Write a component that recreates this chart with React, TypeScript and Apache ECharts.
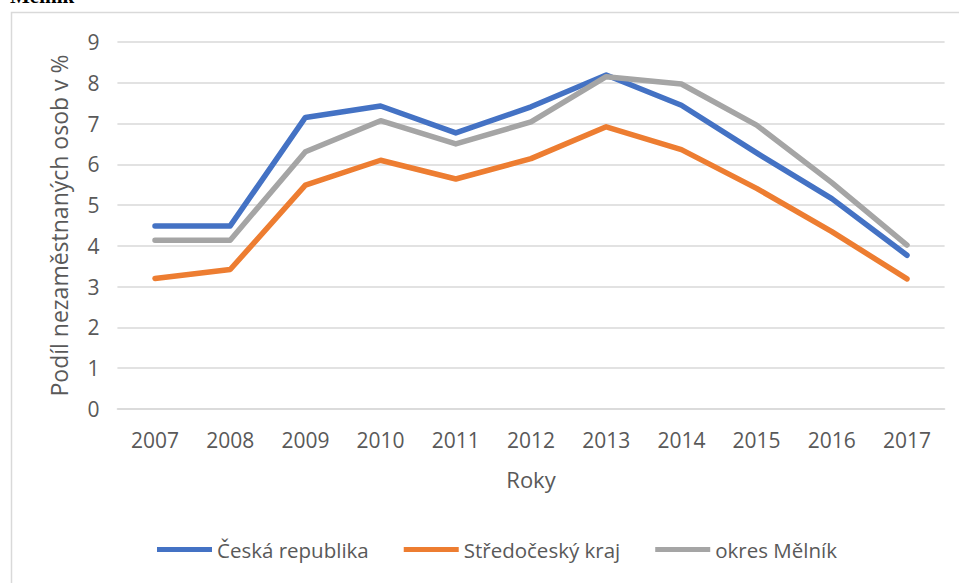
import React, { useEffect, useRef } from "react";
import * as echarts from "echarts";

const years = ["2007", "2008", "2009", "2010", "2011", "2012", "2013", "2014", "2015", "2016", "2017"];
const ceskaRepublika = [4.49, 4.49, 7.15, 7.43, 6.77, 7.41, 8.19, 7.45, 6.28, 5.16, 3.77];
const stredoceskyKraj = [3.2, 3.42, 5.49, 6.1, 5.64, 6.14, 6.92, 6.36, 5.41, 4.35, 3.19];
const okresMelnik = [4.14, 4.14, 6.31, 7.07, 6.5, 7.04, 8.15, 7.97, 6.96, 5.55, 4.02];
const seriesNames = ["Česká republika", "Středočeský kraj", "okres Mělník"];
const colors = ["#4472C4", "#ED7D31", "#A5A5A5"];

const FONT = '"Open Sans", "Noto Sans", sans-serif';
const TEXT = "#595959";

export default function App() {
  const ref = useRef<HTMLDivElement>(null);
  useEffect(() => {
    if (!ref.current) return;
    const chart = echarts.init(ref.current, undefined, { renderer: "svg" });
    const data = [ceskaRepublika, stredoceskyKraj, okresMelnik];
    chart.setOption({
      animation: false,
      backgroundColor: "#ffffff",
      textStyle: { fontFamily: FONT },
      graphic: [
        {
          type: "rect",
          shape: { x: 11.5, y: 12.5, width: 1000, height: 700 },
          style: { fill: "none", stroke: "#d9d9d9", lineWidth: 1.5 },
          silent: true,
        },
        {
          type: "text",
          x: 10,
          y: -15,
          style: {
            text: "Mělník",
            font: 'bold 21px "Liberation Serif", serif',
            fill: "#000000",
          },
        },
      ],
      grid: { left: 117.4, right: 14.4, top: 42, bottom: 174 },
      xAxis: {
        type: "category",
        data: years,
        boundaryGap: true,
        name: "Roky",
        nameLocation: "middle",
        nameGap: 59,
        nameTextStyle: { fontSize: 22, color: TEXT, fontFamily: FONT },
        axisLine: { show: true, lineStyle: { color: "#d9d9d9", width: 1.5 } },
        axisTick: { show: false },
        axisLabel: { fontSize: 21, color: TEXT, margin: 20, fontFamily: FONT },
      },
      yAxis: {
        type: "value",
        min: 0,
        max: 9,
        interval: 1,
        name: "Podíl nezaměstnaných osob v %",
        nameLocation: "middle",
        nameGap: 47,
        nameTextStyle: { fontSize: 23, color: TEXT, fontFamily: FONT },
        axisLine: { show: false },
        axisTick: { show: false },
        axisLabel: { fontSize: 21, color: TEXT, margin: 18, fontFamily: FONT },
        splitLine: { lineStyle: { color: "#d9d9d9", width: 1.5 } },
      },
      legend: {
        left: 152,
        top: 534,
        itemWidth: 55,
        itemHeight: 5,
        itemGap: 35,
        icon: "rect",
        textStyle: { fontSize: 20.5, color: TEXT, fontFamily: FONT },
        data: seriesNames,
      },
      series: seriesNames.map((name, i) => ({
        name,
        type: "line",
        data: data[i],
        symbol: "none",
        smooth: false,
        color: colors[i],
        lineStyle: { width: 5.5, color: colors[i], cap: "round", join: "round" },
      })),
    });
    return () => chart.dispose();
  }, []);
  return (
    <div
      ref={ref}
      style={{ position: "fixed", left: 0, top: 0, width: 959, height: 583 }}
    />
  );
}
